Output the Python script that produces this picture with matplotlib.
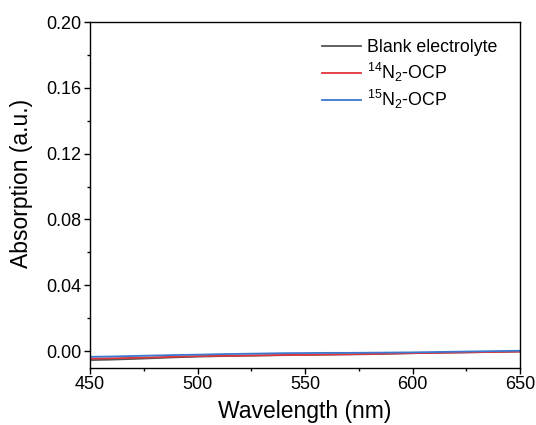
import matplotlib
matplotlib.use("Agg")
import matplotlib.pyplot as plt
from matplotlib.ticker import MultipleLocator

plt.rcParams['font.family'] = ['Liberation Sans', 'DejaVu Sans']
plt.rcParams['mathtext.fontset'] = 'custom'
plt.rcParams['mathtext.rm'] = 'Liberation Sans'

# UV-vis absorption spectra sampled every 10 nm
wavelength = [450, 460, 470, 480, 490, 500, 510, 520, 530, 540, 550,
              560, 570, 580, 590, 600, 610, 620, 630, 640, 650]
blank = [-0.0055, -0.0052, -0.0048, -0.0043, -0.0038, -0.0034, -0.0031, -0.0029,
         -0.0027, -0.0025, -0.0023, -0.0022, -0.0020, -0.0019, -0.0016, -0.0013,
         -0.0011, -0.0009, -0.0007, -0.0005, -0.0003]
n14_ocp = [-0.0046, -0.0044, -0.0041, -0.0038, -0.0034, -0.0031, -0.0029, -0.0028,
           -0.0026, -0.0024, -0.0023, -0.0021, -0.0020, -0.0018, -0.0015, -0.0013,
           -0.0011, -0.0009, -0.0007, -0.0005, -0.0003]
n15_ocp = [-0.0035, -0.0033, -0.0030, -0.0027, -0.0024, -0.0022, -0.0019, -0.0017,
           -0.0015, -0.0013, -0.0012, -0.0011, -0.0011, -0.0010, -0.0009, -0.0008,
           -0.0006, -0.0004, -0.0002, 0.0000, 0.0002]

labels = ['Blank electrolyte', r'$^{14}$N$_{2}$-OCP', r'$^{15}$N$_{2}$-OCP']
colors = ['#555555', '#E2353B', '#3B78CF']

fig = plt.figure(figsize=(5.36, 4.25), dpi=100)
ax = fig.add_axes([90 / 536, 1 - 368 / 425, 430 / 536, 346 / 425])

for y, lab, c in zip([blank, n14_ocp, n15_ocp], labels, colors):
    ax.plot(wavelength, y, color=c, lw=1.3, label=lab)

ax.set_xlim(450, 650)
ax.set_ylim(-0.0103, 0.20)
ax.xaxis.set_major_locator(MultipleLocator(50))
ax.xaxis.set_minor_locator(MultipleLocator(25))
ax.yaxis.set_major_locator(MultipleLocator(0.04))
ax.yaxis.set_minor_locator(MultipleLocator(0.02))
ax.yaxis.set_major_formatter(plt.FuncFormatter(lambda v, p: f"{v:.2f}"))
ax.tick_params(which='major', direction='out', length=4.5, width=1, labelsize=13,
               top=False, right=False, pad=1.5)
ax.tick_params(which='minor', direction='out', length=2.5, width=1,
               top=False, right=False)
for s in ax.spines.values():
    s.set_linewidth(1)

ax.set_xlabel('Wavelength (nm)', fontsize=16.5, labelpad=5)
ax.set_ylabel('Absorption (a.u.)', fontsize=16.5)
ax.yaxis.set_label_coords(-0.133, 0.532)

leg = ax.legend(loc='upper left', bbox_to_anchor=(0.54, 0.95), frameon=False,
                fontsize=12.8, handlelength=2.2, handletextpad=0.3,
                labelspacing=0.25, borderpad=0, borderaxespad=0)

fig.savefig('out.png', dpi=100)
